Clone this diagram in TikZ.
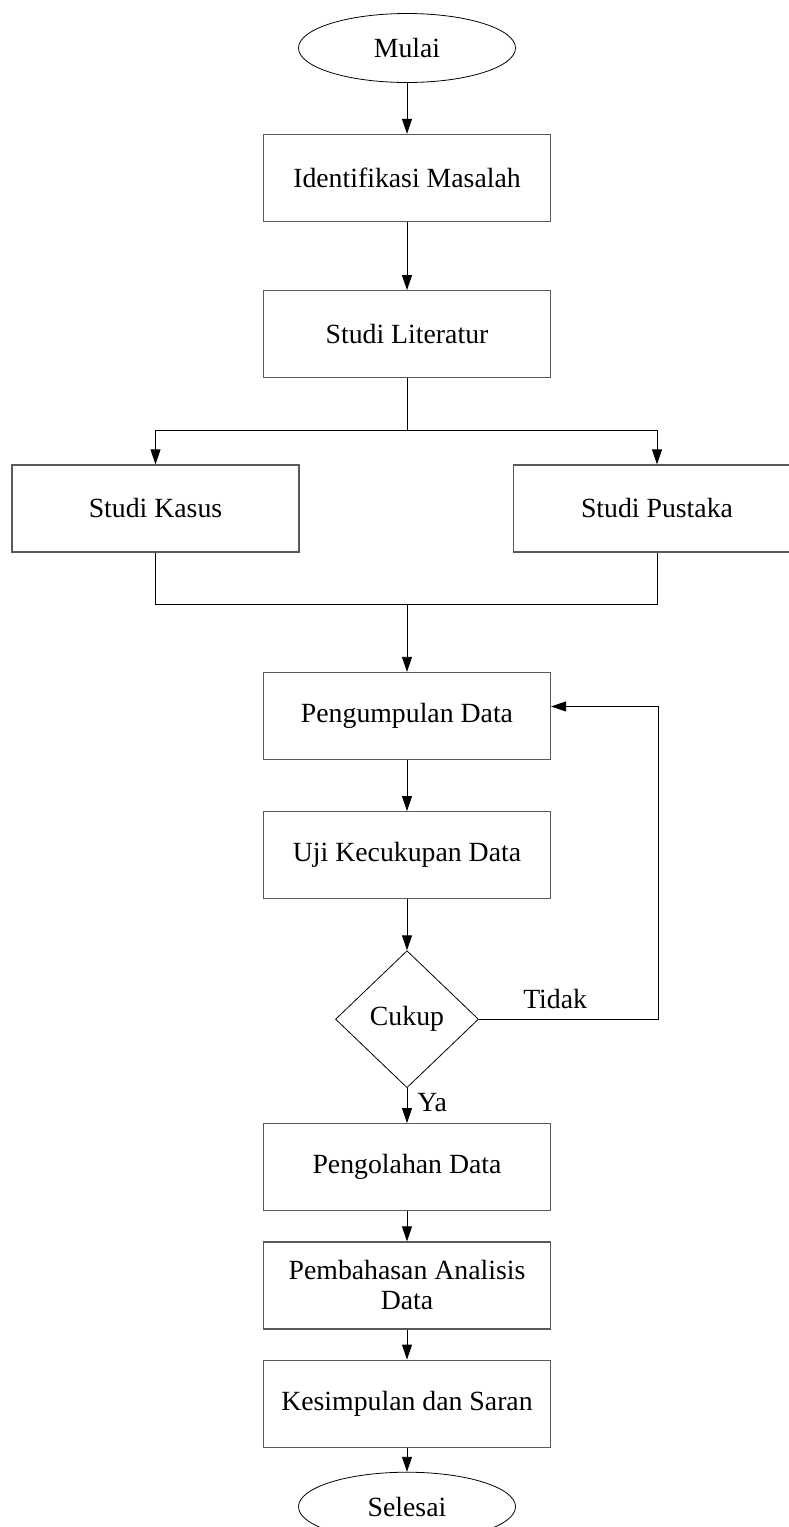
\documentclass[tikz,border=0pt]{standalone}
\usepackage{fontspec}
\setmainfont{Liberation Serif}
\usepackage{tikz}
\usetikzlibrary{arrows.meta,positioning,shapes.geometric}

\begin{document}
\begin{tikzpicture}[
  font=\fontsize{15.8}{17.1}\selectfont,
  box/.style={draw=black!65,line width=0.7pt,align=center,inner sep=2pt,minimum width=5.74cm,minimum height=1.74cm},
  term/.style={draw,ellipse,line width=0.45pt,inner sep=0pt,minimum width=4.34cm,minimum height=1.38cm},
  cek/.style={draw,diamond,line width=0.45pt,inner sep=0pt,minimum width=2.86cm,minimum height=2.74cm},
  lbl/.style={inner sep=0pt},
  arr/.style={-{Triangle[length=0.3cm,width=0.2cm]},line width=0.5pt}
]
\useasboundingbox (0,0) rectangle (15.76,-30.54);
\node[term] (mulai) at (8.14,-0.96) {Mulai};
\node[box,below=1.02cm of mulai] (idm) {Identifikasi Masalah};
\node[box,below=1.36cm of idm] (lit) {Studi Literatur};
\coordinate[below=1.04cm of lit] (cabang);
\node[box,below=1.72cm of lit,xshift=-5.03cm] (kasus) {Studi Kasus};
\node[box,below=1.72cm of lit,xshift=5.0cm] (pustaka) {Studi Pustaka};
\coordinate[below=1.04cm of kasus] (gabung);
\node[box,below=5.87cm of lit] (kumpul) {Pengumpulan Data};
\node[box,below=1.02cm of kumpul] (uji) {Uji Kecukupan Data};
\node[cek,below=1.02cm of uji] (cukup) {Cukup};
\node[box,below=0.70cm of cukup] (olah) {Pengolahan Data};
\node[box,below=0.60cm of olah] (bahas) {Pembahasan Analisis\\Data};
\node[box,below=0.60cm of bahas] (simpul) {Kesimpulan dan Saran};
\node[term,below=0.48cm of simpul] (selesai) {Selesai};
\coordinate[right=2.14cm of kumpul.east,yshift=0.19cm] (balik);
\node[lbl,above right=0.2cm and 0.88cm of cukup.east] (tidak) {Tidak};
\node[lbl,below right=0.1cm and 0.2cm of cukup.south] (ya) {Ya};
\draw[arr] (mulai) -- (idm);
\draw[arr] (idm) -- (lit);
\draw (lit) -- (cabang);
\draw[arr] (cabang) -| (kasus);
\draw[arr] (cabang) -| (pustaka);
\draw (kasus) -- (gabung) -- (gabung -| pustaka) -- (pustaka);
\draw[arr] (gabung -| kumpul) -- (kumpul);
\draw[arr] (kumpul) -- (uji);
\draw[arr] (uji) -- (cukup);
\draw[arr] (cukup.east) -| (balik) -- (balik -| kumpul.east);
\draw[arr] (cukup) -- (olah);
\draw[arr] (olah) -- (bahas);
\draw[arr] (bahas) -- (simpul);
\draw[arr] (simpul) -- (selesai);
\end{tikzpicture}
\end{document}
